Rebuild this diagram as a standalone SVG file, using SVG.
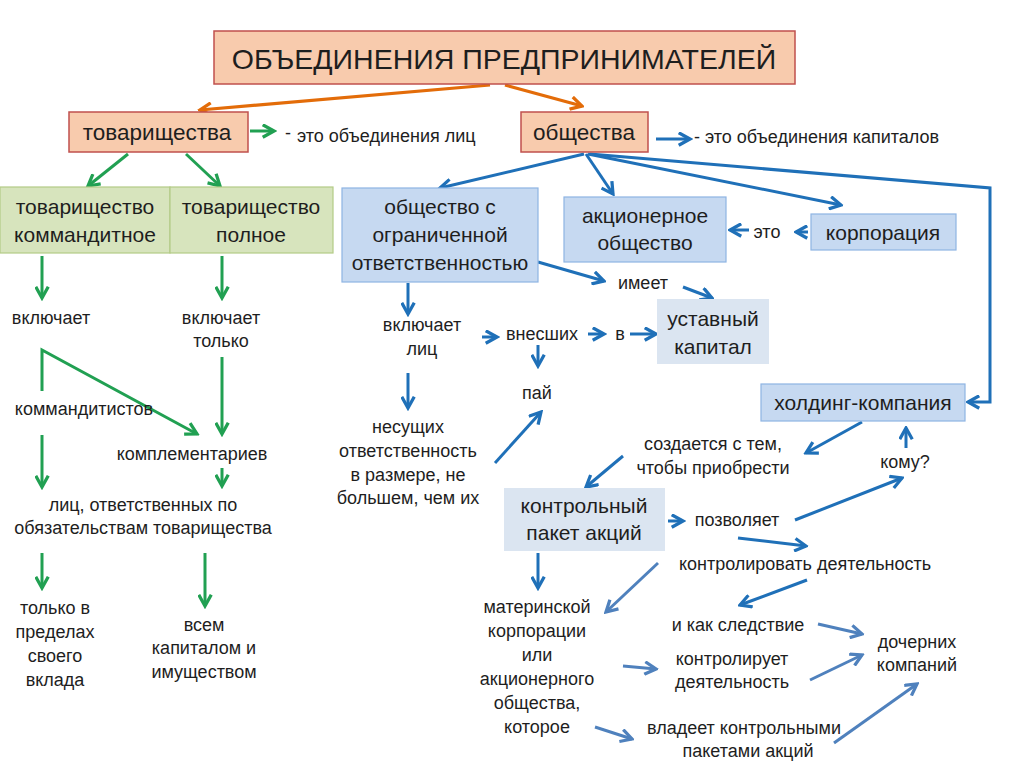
<svg xmlns="http://www.w3.org/2000/svg" width="1024" height="768" viewBox="0 0 1024 768">
<defs>
<marker id="mo" viewBox="0 0 12 12" refX="10" refY="6" markerWidth="15" markerHeight="15" markerUnits="userSpaceOnUse" orient="auto"><path d="M1,1 L10,6 L1,11" fill="none" stroke="#e36c09" stroke-width="2.6"/></marker>
<marker id="mg" viewBox="0 0 12 12" refX="10" refY="6" markerWidth="15" markerHeight="15" markerUnits="userSpaceOnUse" orient="auto"><path d="M1,1 L10,6 L1,11" fill="none" stroke="#21a052" stroke-width="2.6"/></marker>
<marker id="mb" viewBox="0 0 12 12" refX="10" refY="6" markerWidth="15" markerHeight="15" markerUnits="userSpaceOnUse" orient="auto"><path d="M1,1 L10,6 L1,11" fill="none" stroke="#1f70b8" stroke-width="2.6"/></marker>
<marker id="ml" viewBox="0 0 12 12" refX="10" refY="6" markerWidth="15" markerHeight="15" markerUnits="userSpaceOnUse" orient="auto"><path d="M1,1 L10,6 L1,11" fill="none" stroke="#4f81bd" stroke-width="2.6"/></marker>
</defs>
<style>
text{font-family:"Liberation Sans","Noto Sans",Arial,sans-serif;fill:#1e1e1e}
.t{font-size:18px;text-anchor:middle}
.s{font-size:18px;text-anchor:middle}
.b{font-size:21px;text-anchor:middle}
.or{fill:#f8cbad;stroke:#c0504d;stroke-width:1.5}
.gr{fill:#d7e4bd;stroke:#b3cb86;stroke-width:1.2}
.bl{fill:#c6d9f1;stroke:#8eb4e3;stroke-width:1.2}
.lb{fill:#dbe5f1;stroke:none}
.ao{stroke:#e36c09;stroke-width:3.2;fill:none;marker-end:url(#mo)}
.ag{stroke:#21a052;stroke-width:3;fill:none;marker-end:url(#mg)}
.ab{stroke:#1f70b8;stroke-width:3;fill:none;marker-end:url(#mb)}
.al{stroke:#4f81bd;stroke-width:3;fill:none;marker-end:url(#ml)}
</style>
<rect width="1024" height="768" fill="#ffffff"/>

<g id="connectors">
<line class="ao" x1="490" y1="85" x2="200" y2="110"/>
<line class="ao" x1="505" y1="85" x2="582" y2="106"/>
<line class="ag" x1="250" y1="131" x2="274" y2="131"/>
<line class="ab" x1="656" y1="139" x2="690" y2="139"/>
<line class="ag" x1="128" y1="154" x2="88" y2="186"/>
<line class="ag" x1="186" y1="154" x2="220" y2="186"/>
<line class="ab" x1="584" y1="154" x2="440" y2="188"/>
<line class="ab" x1="586" y1="154" x2="613" y2="194"/>
<line class="ab" x1="588" y1="154" x2="841" y2="205"/>
<polyline class="ab" points="590,154 990,188 990,402 968,402"/>
<line class="ab" x1="808" y1="232" x2="796" y2="232"/>
<line class="ab" x1="749" y1="230" x2="730" y2="230"/>
<line class="ab" x1="538" y1="262" x2="604" y2="281"/>
<line class="ab" x1="683" y1="287" x2="712" y2="298"/>
<line class="ab" x1="408" y1="283" x2="408" y2="314"/>
<line class="ab" x1="482" y1="337" x2="497" y2="337"/>
<line class="ab" x1="588" y1="334" x2="604" y2="334"/>
<line class="ab" x1="630" y1="334" x2="656" y2="334"/>
<line class="ab" x1="538" y1="345" x2="538" y2="366"/>
<line class="ab" x1="408" y1="373" x2="408" y2="408"/>
<line class="ab" x1="495" y1="463" x2="541" y2="412"/>
<line class="ag" x1="42" y1="256" x2="42" y2="298"/>
<line class="ag" x1="222" y1="256" x2="222" y2="298"/>
<polyline class="ag" points="42,391 42,350 197,434"/>
<line class="ag" x1="222" y1="357" x2="222" y2="434"/>
<line class="ag" x1="42" y1="435" x2="42" y2="487"/>
<line class="ag" x1="222" y1="468" x2="222" y2="486"/>
<line class="ag" x1="42" y1="553" x2="42" y2="588"/>
<line class="ag" x1="205" y1="553" x2="205" y2="606"/>
<line class="ab" x1="862" y1="422" x2="806" y2="453"/>
<line class="ab" x1="623" y1="456" x2="586" y2="487"/>
<line class="ab" x1="906" y1="448" x2="906" y2="428"/>
<line class="ab" x1="668" y1="521" x2="683" y2="521"/>
<line class="ab" x1="795" y1="520" x2="902" y2="478"/>
<line class="ab" x1="738" y1="538" x2="806" y2="546"/>
<line class="al" x1="658" y1="563" x2="606" y2="612"/>
<line class="ab" x1="807" y1="580" x2="740" y2="605"/>
<line class="ab" x1="538" y1="553" x2="538" y2="588"/>
<line class="al" x1="818" y1="624" x2="862" y2="634"/>
<line class="al" x1="623" y1="666" x2="656" y2="669"/>
<line class="al" x1="810" y1="680" x2="862" y2="655"/>
<line class="al" x1="595" y1="727" x2="632" y2="739"/>
<line class="al" x1="834" y1="743" x2="917" y2="684"/>
</g>

<g id="title"><rect class="or" x="214" y="31" width="581" height="53"/><text x="504" y="69" style="font-size:28.5px;text-anchor:middle">ОБЪЕДИНЕНИЯ ПРЕДПРИНИМАТЕЛЕЙ</text></g>
<g id="tovarishchestva"><rect class="or" x="69" y="112" width="179" height="40"/><text class="b" x="157" y="140" style="font-size:22.5px">товарищества</text></g>
<g id="tov-def"><text x="285" y="139" style="font-size:18px">-</text><text x="297" y="142" style="font-size:18px">это объединения лиц</text></g>
<g id="obshchestva"><rect class="or" x="521" y="112" width="127" height="40"/><text class="b" x="584" y="140" style="font-size:22.5px">общества</text></g>
<g id="obsh-def"><text x="694" y="143" style="font-size:18px">- это объединения капиталов</text></g>

<g id="tov-komm"><rect class="gr" x="0" y="187" width="170" height="66"/><text class="b" x="85" y="214">товарищество</text><text class="b" x="85" y="242">коммандитное</text></g>
<g id="tov-poln"><rect class="gr" x="170" y="187" width="163" height="66"/><text class="b" x="251" y="214">товарищество</text><text class="b" x="251" y="242">полное</text></g>

<g id="ooo"><rect class="bl" x="342" y="188" width="196" height="94"/><text class="b" x="440" y="214">общество с</text><text class="b" x="440" y="242">ограниченной</text><text class="b" x="440" y="270">ответственностью</text></g>
<g id="ao"><rect class="bl" x="564" y="197" width="162" height="65"/><text class="b" x="645" y="223">акционерное</text><text class="b" x="645" y="250">общество</text></g>
<g id="eto"><text class="t" x="767" y="238">это</text></g>
<g id="korporaciya"><rect class="bl" x="811" y="214" width="145" height="36"/><text class="b" x="883" y="240">корпорация</text></g>
<g id="imeet"><text class="s" x="643" y="289">имеет</text></g>
<g id="ustavnyi"><rect class="lb" x="657" y="299" width="112" height="65"/><text class="b" x="713" y="326">уставный</text><text class="b" x="713" y="354">капитал</text></g>

<g id="vklyuchaet-lic"><text class="s" x="422" y="331">включает</text><text class="s" x="422" y="355">лиц</text></g>
<g id="vnesshih"><text class="s" x="542" y="340">внесших</text></g>
<g id="v"><text class="s" x="620" y="340">в</text></g>
<g id="pai"><text class="s" x="537" y="399">пай</text></g>
<g id="nesushchih"><text class="s" x="408" y="433">несущих</text><text class="s" x="408" y="457">ответственность</text><text class="s" x="408" y="481">в размере, не</text><text class="s" x="408" y="504">большем, чем их</text></g>

<g id="vklyuchaet1"><text class="s" x="51" y="324">включает</text></g>
<g id="vklyuchaet2"><text class="s" x="221" y="324">включает</text><text class="s" x="221" y="347">только</text></g>
<g id="kommanditistov"><text class="s" x="84" y="415">коммандитистов</text></g>
<g id="komplementariev"><text class="s" x="192" y="460">комплементариев</text></g>
<g id="lic-otv"><text class="s" x="143" y="511">лиц, ответственных по</text><text class="s" x="143" y="534">обязательствам товарищества</text></g>
<g id="tolko-v"><text class="s" x="55" y="614">только в</text><text class="s" x="55" y="638">пределах</text><text class="s" x="55" y="662">своего</text><text class="s" x="55" y="686">вклада</text></g>
<g id="vsem"><text class="s" x="204" y="631">всем</text><text class="s" x="204" y="654">капиталом и</text><text class="s" x="204" y="678">имуществом</text></g>

<g id="holding"><rect class="bl" x="761" y="384" width="204" height="37"/><text class="b" x="863" y="410">холдинг-компания</text></g>
<g id="sozdaetsya"><text class="t" x="713" y="450">создается с тем,</text><text class="t" x="713" y="474">чтобы приобрести</text></g>
<g id="komu"><text class="t" x="905" y="468">кому?</text></g>
<g id="kontrolnyi"><rect class="lb" x="504" y="488" width="161" height="63"/><text class="b" x="584" y="513">контрольный</text><text class="b" x="584" y="540">пакет акций</text></g>
<g id="pozvolyaet"><text class="s" x="737" y="526">позволяет</text></g>
<g id="kontrolirovat"><text class="t" x="805" y="570">контролировать деятельность</text></g>
<g id="materinskoi"><text class="s" x="537" y="613">материнской</text><text class="s" x="537" y="637">корпорации</text><text class="s" x="537" y="661">или</text><text class="s" x="537" y="685">акционерного</text><text class="s" x="537" y="709">общества,</text><text class="s" x="537" y="733">которое</text></g>
<g id="i-kak"><text class="t" x="738" y="631">и как следствие</text></g>
<g id="docherni"><text class="t" x="917" y="648">дочерних</text><text class="t" x="917" y="671">компаний</text></g>
<g id="kontroliruet"><text class="t" x="732" y="665">контролирует</text><text class="t" x="732" y="688">деятельность</text></g>
<g id="vladeet"><text class="t" x="744" y="734">владеет контрольными</text><text class="t" x="748" y="757">пакетами акций</text></g>
</svg>
